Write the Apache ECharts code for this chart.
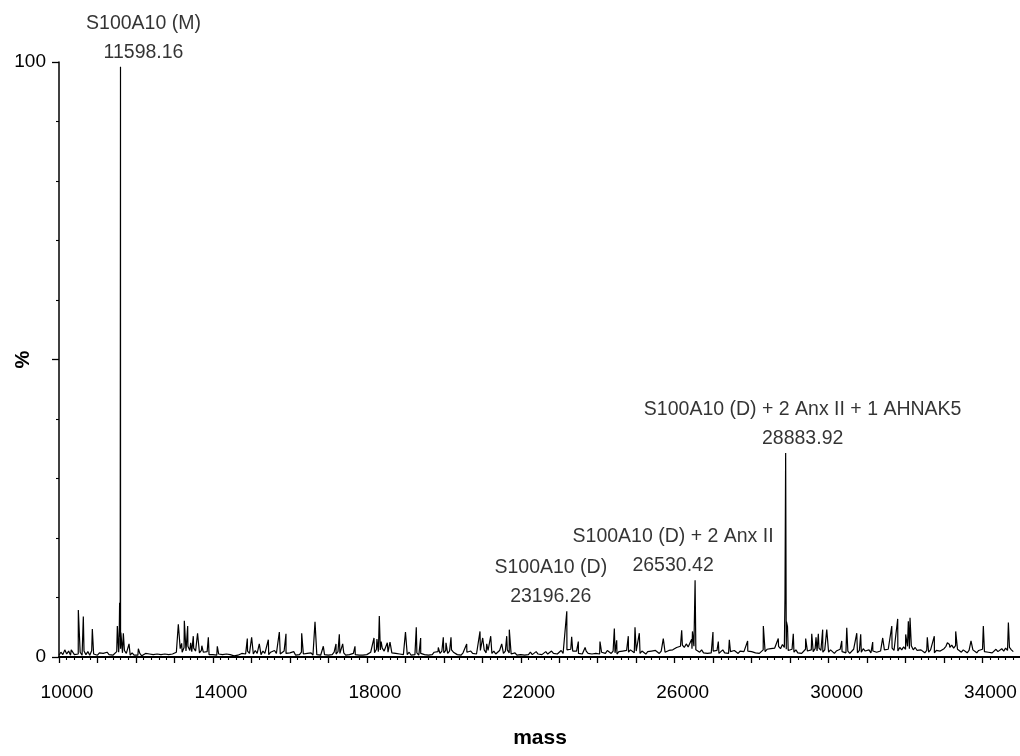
<!DOCTYPE html>
<html>
<head>
<meta charset="utf-8">
<title>Deconvoluted mass spectrum</title>
<script src="https://cdn.jsdelivr.net/npm/echarts@6/dist/echarts.min.js"></script>
<style>
  html, body { margin: 0; padding: 0; background: #ffffff; }
  #chart { width: 1020px; height: 756px; }
</style>
</head>
<body>
<div id="chart"></div>
<script>
// Baseline trace sampled every 50 Da from 10000 Da (one row per 1000 Da), intensity in %
const massStart = 10000;
const massStep = 50;
const baseline = [
  0.3,0.8,0.4,1.2,0.5,1.0,0.3,0.9,0.4,0.7,0.5,0.8,0.3,1.0,0.4,0.9,0.3,1.1,0.5,0.4,
  0.3,0.7,0.4,0.6,0.3,0.8,0.4,0.7,0.3,0.6,0.9,0.8,1.4,0.7,1.1,0.6,0.5,0.3,0.7,0.3,
  0.5,0.3,0.6,0.2,0.4,0.6,0.3,0.5,0.2,0.4,0.3,0.5,0.2,0.4,0.3,0.5,0.2,0.4,0.3,0.5,
  0.4,0.8,1.0,1.4,0.8,1.6,1.0,1.8,1.1,0.9,1.5,1.0,1.3,0.7,1.1,0.8,0.6,0.9,0.4,0.7,
  0.4,0.7,0.3,0.5,0.2,0.4,0.3,0.5,0.2,0.4,0.3,0.2,0.4,0.3,0.5,0.6,0.9,0.5,1.0,0.6,
  0.9,0.5,1.1,0.6,0.8,0.4,1.0,0.6,0.9,0.4,0.8,0.5,1.1,0.6,0.9,0.5,0.8,1.0,0.6,0.9,
  0.7,0.4,0.9,0.3,0.6,0.4,0.8,0.5,0.3,0.6,0.4,0.7,0.3,0.6,0.4,0.7,0.3,0.5,0.4,0.6,
  0.3,0.6,0.4,0.8,0.5,0.9,0.6,0.4,0.7,0.3,0.6,0.4,0.3,0.6,0.4,0.7,0.3,0.5,0.3,0.5,
  0.4,0.6,0.8,1.1,0.7,1.3,0.9,1.2,1.5,1.0,1.3,0.8,1.1,0.7,1.0,0.6,0.9,0.5,0.8,0.4,
  0.7,0.4,0.8,0.3,0.6,0.4,0.7,0.3,0.6,0.8,0.4,0.7,0.3,0.6,0.4,0.8,0.5,0.9,0.6,1.0,
  0.7,1.1,0.6,1.0,1.2,0.8,0.6,0.4,0.6,0.3,0.7,0.4,0.8,0.5,1.0,0.6,0.9,0.5,0.8,1.1,
  0.8,1.2,0.7,1.1,0.8,0.6,1.0,0.5,0.8,1.1,0.8,0.6,1.0,1.2,0.7,0.5,0.4,0.7,0.3,0.6,
  0.4,0.7,0.3,0.6,0.4,0.8,0.4,0.7,0.9,0.5,0.8,0.4,0.7,0.9,0.5,0.8,1.0,0.6,0.9,0.5,
  0.8,1.1,0.6,0.9,1.2,0.9,1.3,1.0,0.7,1.0,0.6,0.9,0.5,0.8,1.0,0.6,0.9,0.5,0.8,0.6,
  0.9,0.5,0.8,1.0,0.6,1.1,0.8,0.6,1.0,0.7,0.5,0.9,0.6,1.0,0.7,1.1,0.8,1.2,0.9,0.7,
  1.0,0.8,0.6,1.0,0.7,0.5,0.9,0.6,1.0,0.7,1.1,0.8,0.6,1.0,1.2,0.8,0.7,1.1,0.8,1.2,
  1.2,1.6,1.3,1.8,2.0,1.6,2.2,1.7,2.0,1.4,1.8,1.2,1.0,0.8,1.2,0.7,1.0,0.6,0.9,0.7,
  1.0,0.7,1.1,0.6,0.9,1.2,0.7,1.0,0.6,0.9,0.7,1.1,0.8,0.6,1.0,0.7,0.9,0.6,1.0,0.7,
  0.9,1.1,0.7,1.0,0.6,0.9,1.2,0.9,1.3,1.0,1.4,1.1,1.5,1.2,1.8,1.4,2.1,1.6,1.3,1.1,
  1.0,1.3,0.8,1.2,0.7,1.0,0.6,0.9,1.3,1.0,0.8,1.2,0.9,1.4,1.0,1.5,1.1,0.8,1.2,0.9,
  0.8,1.2,0.9,0.6,1.0,0.8,1.3,0.9,1.2,0.7,1.0,0.6,0.9,1.3,1.0,0.7,1.1,0.8,1.4,1.0,
  0.9,1.2,0.7,1.0,1.3,0.8,0.6,1.0,0.7,1.2,0.9,1.3,1.0,1.5,1.1,1.4,1.0,1.6,1.2,1.7,
  1.3,1.8,1.4,1.9,1.2,1.6,1.1,0.8,1.2,0.9,0.7,1.1,0.8,1.2,0.9,0.7,1.1,0.8,1.0,0.7,
  1.4,1.8,2.1,1.6,2.0,1.5,1.9,1.3,1.1,0.8,1.2,0.9,0.7,1.1,0.8,1.2,0.9,0.7,1.1,0.8,
  1.3,0.9,1.2,0.8,1.1,0.7,1.0,1.3,0.9,1.2,1.4,1.0,1.5,1.1,1.6,1.2,0.9
];

// Unassigned spikes: [mass (Da), intensity (%)]
const peaks = [
  [10172,1.3],[10318,1.2],[10502,7.9],[10632,6.8],[10866,4.7],
  [11516,5.2],[11562,2.1],[11575,9.1],[11590,3.4],[11608,4.1],[11672,4.0],[11820,2.2],
  [12062,1.4],
  [13101,5.5],[13188,2.3],[13257,6.1],[13344,5.2],[13422,2.4],[13490,3.5],[13601,4.0],
  [13712,1.9],[13881,3.3],[14114,1.8],
  [14894,3.1],[15006,3.3],[15205,2.2],[15440,2.9],[15726,4.2],[15899,3.9],
  [16307,4.0],[16653,5.9],[16869,1.8],[17199,2.2],[17285,3.8],[17372,2.2],[17692,1.8],
  [18186,3.2],[18262,3.0],[18324,6.9],[18372,2.6],[18532,2.4],[18602,2.5],
  [19004,4.2],[19285,5.0],[19399,3.2],[19857,1.6],[19987,3.3],[20057,2.4],[20187,3.3],
  [20595,2.2],[20941,4.3],[21011,3.2],[21115,2.2],[21219,3.5],[21505,2.2],[21635,3.5],
  [21702,4.6],
  [23323,3.4],[23496,2.6],[23672,1.6],[24059,2.6],[24432,4.8],[24493,2.8],[24795,3.5],
  [24969,5.0],[25081,4.0],[25704,3.1],[26182,4.5],[26441,3.0],[26462,4.3],
  [26995,4.2],[27134,2.6],[27420,2.9],[27896,2.7],[28304,5.2],[28692,3.1],
  [28866,9.8],[28906,5.9],[28932,5.1],
  [29082,3.9],[29404,3.1],[29562,3.9],[29673,3.3],[29733,3.9],[29846,4.6],[29952,4.6],
  [30342,2.7],[30472,4.9],[30732,4.0],[30834,3.8],[31146,2.5],[31406,3.2],[31642,5.2],
  [31796,6.4],[32003,3.8],[32072,6.0],[32116,6.6],[32565,3.3],[32747,3.5],[33087,2.4],
  [33142,2.1],[33303,4.3],[33701,2.7],[34021,5.2],[34672,5.8]
];

// Assigned species
const labelNames = [
  'S100A10 (M)',
  'S100A10 (D)',
  'S100A10 (D) + 2 Anx II',
  'S100A10 (D) + 2 Anx II + 1 AHNAK5'
];
const labelMasses = [11598.16, 23196.26, 26530.42, 28883.92];
const labelHeights = [99.2, 7.7, 12.9, 34.3];

// Axis tick labels
const xTickLabels = [10000, 14000, 18000, 22000, 26000, 30000, 34000];
const yTickLabels = [0, 100];

// Horizontal nudge of each annotation block relative to its peak (px)
const labelShift = [23, -16, -22, 17];

// Full trace: baseline samples plus all spikes, ordered by mass
const trace = baseline.map((h, i) => [massStart + i * massStep, h])
  .concat(peaks)
  .concat(labelMasses.map((m, i) => [m, labelHeights[i]]))
  .sort((a, b) => a[0] - b[0]);

const FONT = '"Liberation Sans", Arial, Helvetica, sans-serif';
const INK = '#000000';

const chart = echarts.init(document.getElementById('chart'), null, { renderer: 'canvas' });
chart.setOption({
  backgroundColor: '#ffffff',
  animation: false,
  grid: {
    left: 59, top: 62, width: 962, height: 595,
    containLabel: false,
    outerBoundsMode: 'none'
  },
  xAxis: {
    type: 'value',
    min: 10000,
    max: 35000,
    interval: 1000,
    name: 'mass',
    nameLocation: 'middle',
    nameGap: 71,
    nameMoveOverlap: false,
    nameTextStyle: { fontFamily: FONT, fontSize: 21, fontWeight: 'bold', color: INK },
    axisLine: { show: true, onZero: false, lineStyle: { color: '#000', width: 2 } },
    axisTick: { show: true, inside: false, length: 6, lineStyle: { color: '#000', width: 1.3 } },
    minorTick: { show: true, splitNumber: 5, length: 3, lineStyle: { color: '#000', width: 1.1 } },
    splitLine: { show: false },
    minorSplitLine: { show: false },
    axisLabel: {
      margin: 26,
      fontFamily: FONT,
      fontSize: 19,
      color: INK,
      padding: [0, 0, 0, 16],
      showMaxLabel: false,
      formatter: v => (xTickLabels.indexOf(v) >= 0 ? String(v) : '')
    }
  },
  yAxis: {
    type: 'value',
    min: 0,
    max: 100,
    interval: 50,
    name: '%',
    nameLocation: 'middle',
    nameRotate: 90,
    nameGap: 26,
    nameMoveOverlap: false,
    nameTextStyle: { fontFamily: FONT, fontSize: 20, fontWeight: 'bold', color: INK },
    axisLine: { show: true, lineStyle: { color: '#000', width: 1.5 } },
    axisTick: { show: true, inside: false, length: 7, lineStyle: { color: '#000', width: 1.3 } },
    minorTick: { show: true, splitNumber: 5, length: 3, lineStyle: { color: '#000', width: 1.1 } },
    splitLine: { show: false },
    minorSplitLine: { show: false },
    axisLabel: {
      margin: 13,
      fontFamily: FONT,
      fontSize: 19,
      color: INK,
      padding: [8, 0, 0, 0],
      formatter: v => (yTickLabels.indexOf(v) >= 0 ? String(v) : '')
    }
  },
  series: [
    {
      name: 'spectrum',
      type: 'line',
      data: trace,
      showSymbol: false,
      symbol: 'none',
      smooth: false,
      lineStyle: { color: '#000000', width: 1.2 },
      emphasis: { disabled: true },
      z: 2
    },
    {
      name: 'assignments',
      type: 'scatter',
      symbol: 'circle',
      symbolSize: 0.1,
      itemStyle: { color: 'transparent' },
      emphasis: { disabled: true },
      data: labelMasses.map((m, i) => ({
        name: labelNames[i],
        value: [m, labelHeights[i]],
        label: { offset: [labelShift[i], 0] }
      })),
      label: {
        show: true,
        position: 'top',
        distance: 0,
        align: 'center',
        fontFamily: FONT,
        fontSize: 19.5,
        lineHeight: 29,
        color: INK,
        formatter: p => p.name + '\n' + p.value[0].toFixed(2)
      },
      z: 3
    }
  ]
});
</script>
</body>
</html>
